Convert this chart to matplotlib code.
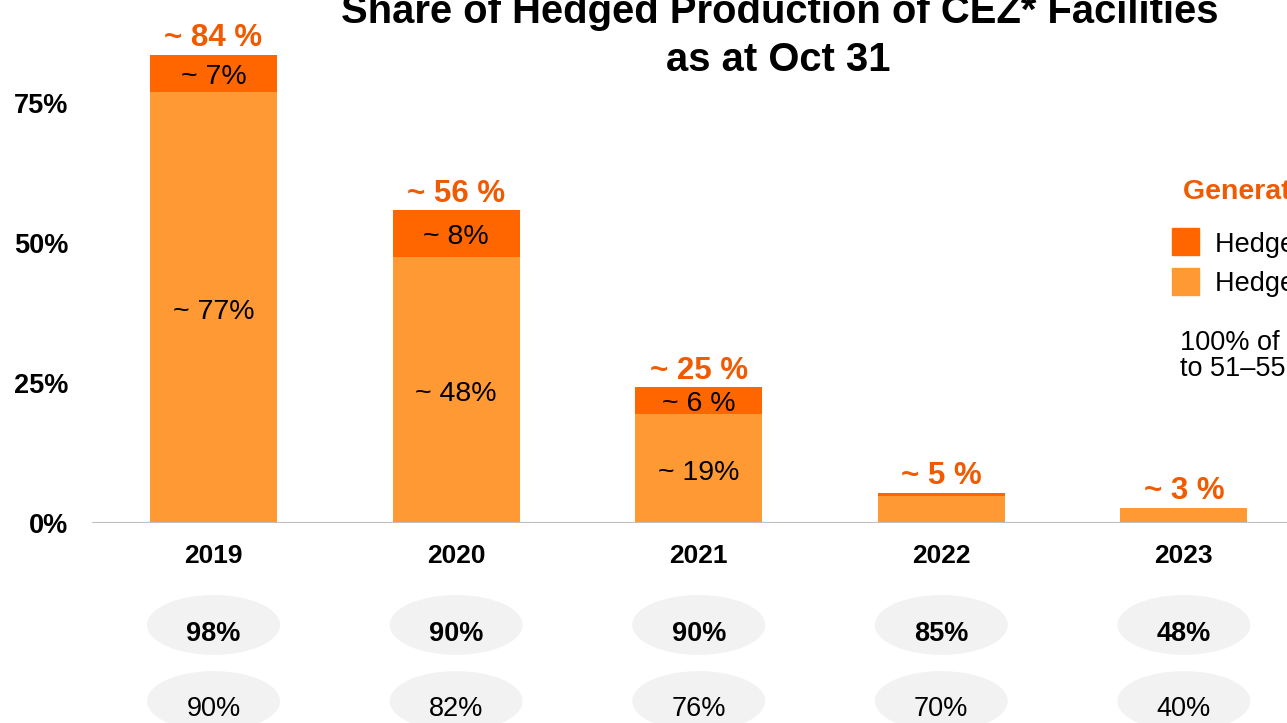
import matplotlib.pyplot as plt
from matplotlib.patches import Ellipse

plt.rcParams['font.family'] = ['Liberation Sans', 'DejaVu Sans']

# data
years = ['2019', '2020', '2021', '2022', '2023']
hedged_before = [77, 47.5, 19.5, 4.8, 2.7]
hedged_new = [6.6, 8.4, 4.8, 0.6, 0]
before_labels = ['~ 77%', '~ 48%', '~ 19%', '', '']
new_labels = ['~ 7%', '~ 8%', '~ 6 %', '', '']
total_labels = ['~ 84 %', '~ 56 %', '~ 25 %', '~ 5 %', '~ 3 %']
row1_labels = ['98%', '90%', '90%', '85%', '48%']
row2_labels = ['90%', '82%', '76%', '70%', '40%']

light = '#ff9933'
dark = '#ff6600'
red_orange = '#f05a00'

fig = plt.figure(figsize=(12.87, 7.23), dpi=100)
ax = fig.add_axes([92 / 1287, 200 / 723, 1195 / 1287, 523 / 723])

x = range(len(years))
ax.bar(x, hedged_before, width=0.523, color=light, zorder=2)
ax.bar(x, hedged_new, width=0.523, bottom=hedged_before, color=dark, zorder=2)

for i in x:
    b = hedged_before[i]
    n = hedged_new[i]
    if before_labels[i]:
        ax.annotate(before_labels[i], (i, b / 2), xytext=(0, -3), textcoords='offset points',
                    ha='center', va='center', fontsize=20.5, color='black')
    if new_labels[i]:
        ax.annotate(new_labels[i], (i, b + n / 2), xytext=(0, -2.5), textcoords='offset points',
                    ha='center', va='center', fontsize=20.5, color='black')
    ax.annotate(total_labels[i], (i, b + n), xytext=(0, 1), textcoords='offset points',
                ha='center', va='bottom', fontsize=22.5, fontweight='bold', color=red_orange)
    # year label and ellipse rows below the axis
    ax.text(i, -5.9, years[i], ha='center', va='center', fontsize=19, fontweight='bold', clip_on=False)
    ax.add_patch(Ellipse((i, -18.2), 0.548, 10.7, facecolor='#f2f2f2', edgecolor='none', clip_on=False))
    ax.text(i, -19.9, row1_labels[i], ha='center', va='center', fontsize=19.5, fontweight='bold', clip_on=False)
    ax.add_patch(Ellipse((i, -31.8), 0.548, 10.7, facecolor='#f2f2f2', edgecolor='none', clip_on=False))
    ax.text(i, -33.3, row2_labels[i], ha='center', va='center', fontsize=19.5, clip_on=False)

ax.axhline(0, color='#bfbfbf', linewidth=1.5, zorder=3)
ax.set_xlim(-0.501, 4.425)
ax.set_ylim(0, 93.4)
ax.set_yticks([0, 25, 50, 75])
ax.set_yticklabels(['0%', '25%', '50%', '75%'], fontsize=19.5, fontweight='bold')
ax.tick_params(axis='y', length=0, pad=17)
ax.set_xticks([])
for s in ax.spines.values():
    s.set_visible(False)

# title
fig.text(780 / 1287, 1 - 12 / 723, 'Share of Hedged Production of CEZ* Facilities',
         ha='center', va='center', fontsize=28.8, fontweight='bold')
fig.text(778 / 1287, 1 - 60 / 723, 'as at Oct 31', ha='center', va='center', fontsize=28.8, fontweight='bold')

# legend
fig.text(1183 / 1287, 1 - 192 / 723, 'Generation hedged', ha='left', va='center',
         fontsize=20.5, fontweight='bold', color=red_orange)
fig.patches.append(plt.Rectangle((1172 / 1287, 1 - 255 / 723), 27 / 1287, 27 / 723,
                                 transform=fig.transFigure, color=dark))
fig.patches.append(plt.Rectangle((1172 / 1287, 1 - 295 / 723), 27 / 1287, 27 / 723,
                                 transform=fig.transFigure, color=light))
fig.text(1215 / 1287, 1 - 245 / 723, 'Hedged in Q3 2019', ha='left', va='center', fontsize=19.5)
fig.text(1215 / 1287, 1 - 284 / 723, 'Hedged before Q3 2019', ha='left', va='center', fontsize=19.5)
fig.text(1180 / 1287, 1 - 356 / 723, '100% of contracted generation\nto 51–55 TWh per year',
         ha='left', va='center', fontsize=19.5, linespacing=1.0)

fig.savefig('out.png', dpi=100)
